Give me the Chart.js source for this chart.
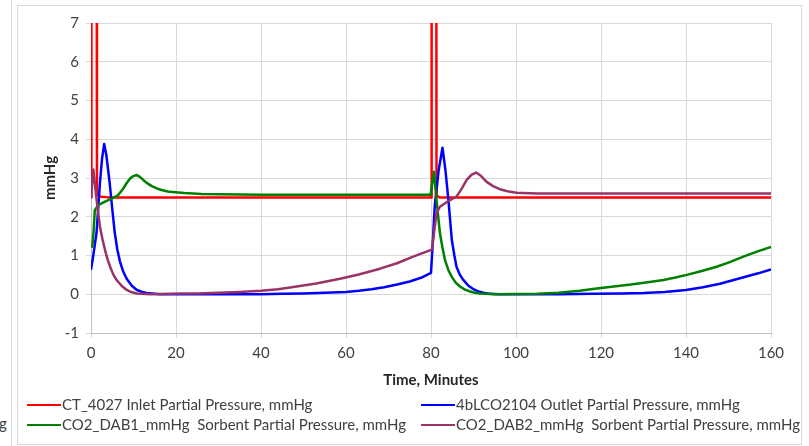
<!DOCTYPE html>
<html>
<head>
<meta charset="utf-8">
<script src="https://cdn.jsdelivr.net/npm/chart.js@4"></script>
<style>
  body { margin: 0; background: #fff; font-family: Lato, "Open Sans", sans-serif; }
  #wrap { position: relative; width: 809px; height: 446px; overflow: hidden; }
  #frame { position: absolute; left: 17px; top: 5px; width: 783px; height: 438px; border: 1px solid #d9d9d9; }
  #sideLine { position: absolute; left: 11px; top: 0; width: 1px; height: 446px; background: #d9d9d9; }
  #stray { position: absolute; left: -1px; top: 414px; font-size: 15px; color: #404040; }
  canvas { position: absolute; left: 0; top: 0; }
  .leg { position: absolute; font-size: 15px; color: #404040; white-space: pre; line-height: 18px; }
  .leg i { display: inline-block; width: 34px; height: 2px; vertical-align: middle; margin-right: 1px; position: relative; top: -1px; }
</style>
</head>
<body>
<div id="wrap">
  <div id="sideLine"></div>
  <div id="frame"></div>
  <div id="stray">g</div>
  <canvas id="myChart" width="809" height="446"></canvas>
  <div id="legend"></div>
</div>
<script>
// DATOS
const seriesNames = [
  "CT_4027 Inlet Partial Pressure, mmHg",
  "4bLCO2104 Outlet Partial Pressure, mmHg",
  "CO2_DAB1_mmHg  Sorbent Partial Pressure, mmHg",
  "CO2_DAB2_mmHg  Sorbent Partial Pressure, mmHg"
];
const seriesColors = ["#ff0000", "#0000ff", "#008000", "#993366"];

const ctTime  = [0, 0.1, 1.2, 1.4, 2, 4, 10, 20, 40, 60, 80, 80.15, 81.1, 81.3, 82, 90, 100, 120, 140, 160];
const ctValue = [2.5, 30, 30, 2.58, 2.52, 2.5, 2.5, 2.5, 2.5, 2.5, 2.5, 30, 30, 2.55, 2.5, 2.5, 2.5, 2.5, 2.5, 2.5];

const lcoTime  = [0, 0.5, 1.3, 2.1, 2.6, 3.1, 3.6, 4.4, 5, 5.6, 6.2, 6.8, 7.6, 8.4, 9.6, 10.8, 12, 13.1, 15, 16, 30, 40, 45, 50, 55, 60, 63, 66, 69, 72, 75, 78, 80,
                  80.4, 80.9, 81.8, 82.7, 83.4, 84.1, 84.9, 85.5, 86, 86.8, 87.6, 88.8, 90, 91.2, 92.3, 94, 96, 110, 118, 125, 130, 135, 140, 144, 148, 151, 154, 157, 160];
const lcoValue = [0.63, 0.97, 1.58, 2.87, 3.5, 3.88, 3.6, 2.87, 2.2, 1.58, 1.15, 0.85, 0.58, 0.4, 0.22, 0.11, 0.06, 0.03, 0.01, 0, 0, 0, 0.01, 0.02, 0.04, 0.06, 0.09, 0.13, 0.18, 0.25, 0.33, 0.44, 0.55,
                  1.3, 2.3, 3.2, 3.78, 3.2, 2.43, 1.4, 1, 0.71, 0.5, 0.37, 0.22, 0.13, 0.07, 0.04, 0.01, 0, 0, 0.01, 0.02, 0.03, 0.06, 0.11, 0.18, 0.27, 0.36, 0.45, 0.54, 0.64];

const dab1Time  = [0, 0.3, 0.6, 0.9, 1.7, 3.3, 4.9, 6.4, 7.6, 8.4, 9.2, 10, 10.7, 11.5, 12.3, 13.3, 14.3, 15.5, 16.6, 18, 19.8, 22, 26, 40, 60, 79.9,
                   80.7, 81.3, 82.1, 82.7, 83.3, 84.1, 84.9, 85.8, 86.8, 88, 89.2, 90.3, 91.5, 95, 105, 110, 115, 119, 123, 127, 131, 134.7, 137.5, 140.2, 143.7, 147.2, 150.3, 153.5, 156.7, 160];
const dab1Value = [1.25, 1.23, 1.6, 2.17, 2.3, 2.39, 2.47, 2.56, 2.73, 2.87, 2.99, 3.05, 3.08, 3.03, 2.95, 2.86, 2.79, 2.73, 2.69, 2.65, 2.63, 2.61, 2.59, 2.57, 2.57, 2.57,
                   3.16, 2.43, 1.58, 1.2, 0.88, 0.62, 0.45, 0.3, 0.2, 0.12, 0.07, 0.04, 0.02, 0, 0.01, 0.04, 0.09, 0.15, 0.2, 0.25, 0.31, 0.37, 0.43, 0.5, 0.6, 0.71, 0.83, 0.97, 1.1, 1.22];

const dab2Time  = [0, 0.55, 1.33, 2.1, 2.7, 3.3, 3.9, 4.5, 5.2, 6, 7.2, 8.4, 9.6, 10.8, 14, 21, 25, 30, 35, 40, 44, 48.4, 53, 58.6, 63, 68, 72, 75.8, 78, 80.2,
                   81.3, 82.1, 84, 86, 87.2, 88.4, 89.5, 90.6, 91.8, 93.1, 94.6, 96.2, 98, 100.1, 105, 110, 130, 160];
const dab2Value = [2.5, 3.22, 2.43, 1.74, 1.42, 1.14, 0.9, 0.71, 0.52, 0.37, 0.22, 0.11, 0.05, 0.02, 0, 0.02, 0.02, 0.04, 0.06, 0.09, 0.13, 0.2, 0.28, 0.4, 0.51, 0.66, 0.8, 0.97, 1.06, 1.15,
                   2.09, 2.26, 2.4, 2.52, 2.72, 2.95, 3.08, 3.14, 3.05, 2.9, 2.79, 2.71, 2.66, 2.62, 2.6, 2.6, 2.6, 2.6];

const xTicks = [0, 20, 40, 60, 80, 100, 120, 140, 160];
const yTicks = [-1, 0, 1, 2, 3, 4, 5, 6, 7];

// ARMAR PUNTOS
function toPoints(times, values) {
  return times.map((t, i) => ({ x: t, y: values[i] }));
}
const allTimes = [ctTime, lcoTime, dab1Time, dab2Time];
const allValues = [ctValue, lcoValue, dab1Value, dab2Value];

const datasets = seriesNames.map((name, i) => ({
  label: name,
  data: toPoints(allTimes[i], allValues[i]),
  borderColor: seriesColors[i],
  backgroundColor: seriesColors[i],
  borderWidth: 2.5,
  pointRadius: 0,
  tension: 0,
  borderJoinStyle: "round",
  order: 4 - i
}));

const font = "Lato";
const config = {
  type: "line",
  data: { datasets },
  options: {
    responsive: false,
    animation: false,
    layout: { padding: { left: 20, right: 38, top: 23, bottom: 53 } },
    plugins: { legend: { display: false }, tooltip: { enabled: false } },
    scales: {
      x: {
        type: "linear",
        min: 0, max: 160,
        afterBuildTicks: (s) => { s.ticks = xTicks.map(v => ({ value: v })); },
        afterFit: (s) => { s.height = 60; },
        ticks: { color: "#404040", font: { family: font, size: 15 }, padding: 6, maxRotation: 0 },
        grid: { color: "#d9d9d9", tickLength: 5 },
        border: { color: "#bfbfbf" },
        title: { display: true, text: "Time, Minutes", color: "#262626", font: { family: font, size: 15, weight: "bold" }, padding: { top: 0, bottom: 4 } }
      },
      y: {
        min: -1, max: 7,
        afterBuildTicks: (s) => { s.ticks = yTicks.map(v => ({ value: v })); },
        afterFit: (s) => { s.width = 71; },
        ticks: { color: "#404040", font: { family: font, size: 15 }, padding: 7 },
        grid: { color: "#d9d9d9", tickLength: 5 },
        border: { color: "#bfbfbf" },
        title: { display: true, text: "mmHg", color: "#262626", font: { family: font, size: 15, weight: "bold" }, padding: { top: 21, bottom: 0 } }
      }
    }
  }
};

const myChart = document.getElementById("myChart");
window.grafica = new Chart(myChart, config);

// LEYENDA EN DOS COLUMNAS
const legendPos = [[27, 395], [421, 395], [27, 415], [421, 415]];
const legend = document.getElementById("legend");
seriesNames.forEach((name, i) => {
  const d = document.createElement("div");
  d.className = "leg";
  d.style.left = legendPos[i][0] + "px";
  d.style.top = legendPos[i][1] + "px";
  d.innerHTML = '<i style="background:' + seriesColors[i] + '"></i>' + name;
  legend.appendChild(d);
});
</script>
</body>
</html>
